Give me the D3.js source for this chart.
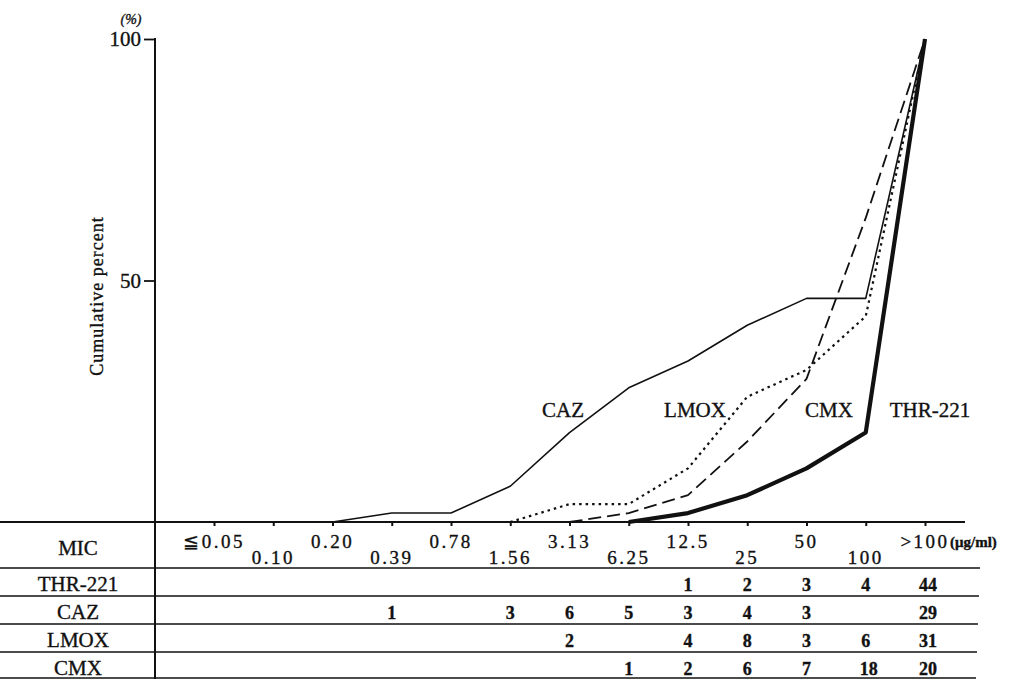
<!DOCTYPE html>
<html>
<head>
<meta charset="utf-8">
<script src="https://cdn.jsdelivr.net/npm/d3@7"></script>
<style>
  html, body { margin: 0; padding: 0; background: #fff; }
  svg { display: block; }
  text { font-family: "Liberation Serif", "Times New Roman", serif; fill: #111; stroke: #111; stroke-width: 0.35px; }
</style>
</head>
<body>
<svg id="chart" width="1025" height="680"></svg>
<script>
// MIC classes (µg/ml) and number of strains per class for each drug
const categories = ["≦0.05", "0.10", "0.20", "0.39", "0.78", "1.56", "3.13", "6.25", "12.5", "25", "50", "100", ">100"];
const thr221 = [0, 0, 0, 0, 0, 0, 0, 0, 1, 2, 3, 4, 44];
const caz    = [0, 0, 0, 1, 0, 3, 6, 5, 3, 4, 3, 0, 29];
const lmox   = [0, 0, 0, 0, 0, 0, 2, 0, 4, 8, 3, 6, 31];
const cmx    = [0, 0, 0, 0, 0, 0, 0, 1, 2, 6, 7, 18, 20];
const drugNames = ["THR-221", "CAZ", "LMOX", "CMX"];
const yTicks = [50, 100];

const svg = d3.select("#chart");
const x = d3.scalePoint().domain(categories).range([214, 925]);
const y = d3.scaleLinear().domain([0, 100]).range([522, 39]);
const axisX = 155;

// cumulative percent curve, starting from the class just before the first isolate
function curve(counts) {
  const total = d3.sum(counts);
  const cum = Array.from(d3.cumsum(counts), v => v / total * 100);
  const first = counts.findIndex(v => v > 0);
  return categories.map((c, i) => ({ c, v: cum[i] })).slice(Math.max(0, first - 1));
}

const line = d3.line().x(d => x(d.c)).y(d => y(d.v));

const series = [
  { name: "CAZ",     counts: caz,    width: 1.6, dash: null,    label: [563, 417] },
  { name: "LMOX",    counts: lmox,   width: 2.2, dash: "2.5,4", label: [695, 417] },
  { name: "CMX",     counts: cmx,    width: 1.8, dash: "13,6",  label: [829, 417] },
  { name: "THR-221", counts: thr221, width: 4.2, dash: null,    label: [930, 417] }
];

// curves
svg.append("g").selectAll("path").data(series).join("path")
  .attr("d", d => line(curve(d.counts)))
  .attr("fill", "none")
  .attr("stroke", "#111")
  .attr("stroke-width", d => d.width)
  .attr("stroke-dasharray", d => d.dash)
  .attr("stroke-linejoin", "round");

// curve labels
svg.append("g").selectAll("text").data(series).join("text")
  .attr("x", d => d.label[0]).attr("y", d => d.label[1])
  .attr("text-anchor", "middle")
  .style("font-size", "21px")
  .text(d => d.name);

// y axis
const yAxis = svg.append("g").attr("transform", `translate(${axisX},0)`)
  .call(d3.axisLeft(y).tickValues(yTicks).tickSize(11).tickPadding(3).tickFormat(d3.format("d")));
yAxis.select(".domain").remove();
yAxis.selectAll(".tick line").attr("stroke", "#111").attr("stroke-width", 1.8);
yAxis.selectAll(".tick text").style("font-size", "21px").attr("fill", "#111")
  .style("font-family", "'Liberation Serif', serif");
svg.append("line").attr("x1", axisX).attr("x2", axisX).attr("y1", y(100) - 1).attr("y2", 679)
  .attr("stroke", "#111").attr("stroke-width", 2);

svg.append("text").attr("x", 131).attr("y", 24).attr("text-anchor", "middle")
  .style("font-size", "14px").style("font-style", "italic").text("(%)");
svg.append("text")
  .attr("transform", "translate(103,296) rotate(-90)")
  .attr("text-anchor", "middle")
  .style("font-size", "18px").style("letter-spacing", "1px")
  .text("Cumulative percent");

// x axis with ticks
svg.append("line").attr("x1", 0).attr("x2", 965).attr("y1", y(0)).attr("y2", y(0))
  .attr("stroke", "#111").attr("stroke-width", 2);
const xAxis = svg.append("g").attr("transform", `translate(0,${y(0)})`)
  .call(d3.axisBottom(x).tickSize(4).tickFormat(""));
xAxis.select(".domain").remove();
xAxis.selectAll(".tick line").attr("stroke", "#111").attr("stroke-width", 2);

// MIC class labels, staggered on two levels
svg.append("g").selectAll("text").data(categories).join("text")
  .attr("x", d => x(d))
  .attr("y", (d, i) => i % 2 === 0 ? 548 : 564)
  .attr("text-anchor", "middle")
  .style("font-size", "19px").style("letter-spacing", "2.5px")
  .text(d => d);
svg.append("text").attr("x", 950).attr("y", 547)
  .style("font-size", "15px").style("font-weight", "bold")
  .text("(μg/ml)");

// table rows
const rowLines = [568, 596, 624, 652, 678];
svg.append("g").selectAll("line").data(rowLines).join("line")
  .attr("x1", 0).attr("x2", (d, i) => 980 - i)
  .attr("y1", d => d).attr("y2", d => d)
  .attr("stroke", "#111").attr("stroke-width", 1.6);

const rowBase = [555, 591, 619, 647, 675];
svg.append("g").selectAll("text").data(["MIC", ...drugNames]).join("text")
  .attr("x", 78).attr("y", (d, i) => rowBase[i])
  .attr("text-anchor", "middle")
  .style("font-size", "21px")
  .text(d => d);

const tableRows = [thr221, caz, lmox, cmx];
tableRows.forEach((counts, r) => {
  svg.append("g").selectAll("text")
    .data(counts.map((v, i) => ({ c: categories[i], v })).filter(d => d.v > 0))
    .join("text")
    .attr("x", d => x(d.c) + (d.v >= 10 ? 3 : 0))
    .attr("y", rowBase[r + 1])
    .attr("text-anchor", "middle")
    .style("font-size", "18px").style("font-weight", "bold")
    .text(d => d.v);
});
</script>
</body>
</html>
